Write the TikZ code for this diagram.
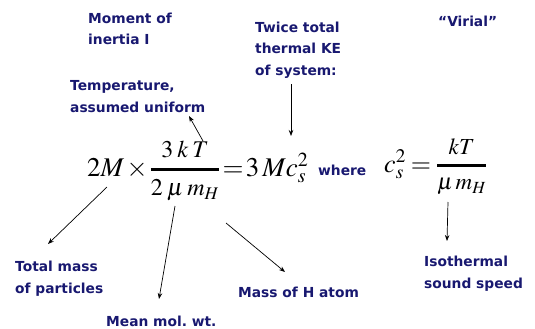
\documentclass[tikz,border=0pt]{standalone}
\usepackage{amsmath}
\usepackage{mathptmx}
\usepackage[no-math]{fontspec}
\newfontfamily\lblfont{DejaVu Sans}
\usetikzlibrary{arrows.meta}
\definecolor{navy}{RGB}{24,24,112}
\newcommand{\nm}[2]{\mbox{\fontsize{#1}{#1}\selectfont$#2$}}
\newcommand{\gap}{\mkern3mu}

\begin{document}
\begin{tikzpicture}[
		x=1pt, y=-1pt,
		lbl/.style={font=\lblfont\bfseries\fontsize{13.8}{21.5}\selectfont, text=navy, align=left, inner sep=0pt, anchor=base west},
		eq/.style={inner sep=0pt, anchor=base west},
		>={Stealth[length=6pt, width=4.5pt]},
		fl/.style={->, line width=0.7pt}
	]
	\useasboundingbox (0,0) rectangle (535,329);
	\thickmuskip=1.5mu
	\medmuskip=1.5mu

	% labels (placed by the baseline of their last line)
	\node[lbl] (moment) at (88,45) {Moment of\\inertia I};
	\node[lbl] (twice) at (255,75) {Twice total\\thermal KE\\of system:};
	\node[lbl] (virial) at (438,27) {“Virial”};
	\node[lbl] (temp) at (70,112) {Temperature,\\assumed uniform};
	\node[lbl] (tmass) at (15,293) {Total mass\\of particles};
	\node[lbl] (mmw) at (106,326) {Mean mol.\ wt.};
	\node[lbl] (massH) at (238,297) {Mass of H atom};
	\node[lbl] (iso) at (424,288) {Isothermal\\sound speed};

	% equations
	\node[eq, font=\fontsize{27}{30}\selectfont] (virialeq) at (87,176)
		{$2M\times\genfrac{}{}{3pt}{0}{\nm{24}{3\gap k\gap T}}{\nm{24}{2\gap\mu\gap m_H}}=3\,Mc_s^2$};
	\node[lbl] (where) at (318,175) {where};
	\node[eq, font=\fontsize{26}{28}\selectfont] (soundeq) at (384,172)
		{$c_s^2\mkern2mu=\mkern2mu\genfrac{}{}{2.6pt}{0}{\nm{23}{kT}}{\nm{23}{\mu\,m_H}}$};

	% arrow ends
	\coordinate (pM) at (107,187);
	\coordinate (pMhead) at (48,244);
	\coordinate (pMu) at (175,206);
	\coordinate (pMuhead) at (159,299);
	\coordinate (pH) at (226,223);
	\coordinate (pHhead) at (285,272);
	\coordinate (pCs) at (448,202);
	\coordinate (pCshead) at (447,241);
	\coordinate (pT) at (203,141);
	\coordinate (pThead) at (189,116);
	\coordinate (pKE) at (291,84);
	\coordinate (pKEhead) at (291,136);

	\draw[fl] (pM) -- (pMhead);
	\draw[fl] (pMu) -- (pMuhead);
	\draw[fl] (pH) -- (pHhead);
	\draw[fl] (pCs) -- (pCshead);
	\draw[fl] (pT) -- (pThead);
	\draw[fl] (pKE) -- (pKEhead);
\end{tikzpicture}
\end{document}
